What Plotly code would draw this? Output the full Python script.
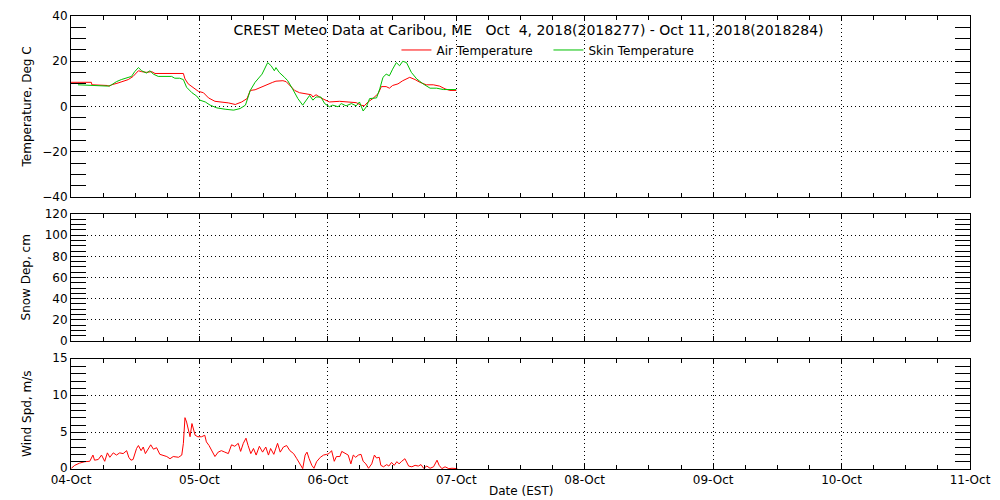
import pandas as pd
import plotly.graph_objects as go

# hours since 2018-10-04 00:00 EST
AIR_HOURS = [0, 3.8, 3.9, 5.6, 5.7, 6.8, 7.2, 7.6, 8.8, 9.75, 10.7, 11.6, 12.6, 13.2, 14.1,
             15.1, 15.7, 21.0, 21.3, 21.9, 22.9, 23.8, 24.75, 25.7, 26.9, 28.2, 29.4, 30.7,
             31.9, 32.9, 33.5, 34.4, 35.8, 37.0, 37.7, 38.3, 39.6, 40.2, 40.8, 41.8, 42.7,
             43.9, 44.9, 45.2, 45.8, 46.7, 47.7, 48.3, 50.2, 52.0, 53.3, 54.2, 54.8, 55.5,
             56.4, 57.4, 58.0, 58.9, 59.5, 60.1, 61.1, 62.0, 62.7, 63.3, 64.3, 65.2, 66.4,
             67.7, 68.9, 69.9, 70.8, 72.0]
AIR_TEMP = [10.7, 10.7, 9.6, 9.6, 9.3, 9.3, 9.0, 9.6, 10.4, 11.2, 11.9, 13.3, 15.8, 15.4, 15.1,
            15.4, 14.6, 14.6, 12.2, 10.0, 8.1, 6.7, 6.1, 3.8, 2.3, 2.0, 1.6, 0.9,
            2.0, 3.5, 7.1, 7.4, 8.9, 10.0, 10.7, 11.2, 11.4, 11.0, 9.6, 7.1, 6.1,
            5.7, 5.2, 4.2, 5.2, 3.8, 2.8, 2.0, 2.3, 2.0, 1.7, 0.6, 0.3, 2.0,
            3.5, 5.7, 8.8, 8.8, 8.1, 9.3, 10.0, 11.4, 12.2, 12.9, 11.9, 10.7, 9.6,
            9.6, 9.0, 7.8, 7.1, 7.1]

SKIN_HOURS = [1.3, 6.6, 7.0, 7.6, 8.5, 9.4, 10.4, 11.3, 11.9, 12.6, 13.2, 14.1, 14.75, 15.4,
              16.3, 18.8, 19.4, 20.3, 21.0, 21.6, 22.6, 23.5, 24.1, 25.1, 26.0, 27.25, 28.8,
              30.4, 31.6, 32.6, 33.5, 34.4, 35.7, 36.75, 37.4, 38.0, 38.3, 38.9, 39.9, 40.5,
              41.4, 42.4, 43.3, 43.9, 44.6, 45.2, 45.8, 46.7, 47.4, 48.3, 48.9, 49.9, 50.5,
              51.4, 52.4, 53.3, 53.9, 54.6, 55.2, 55.8, 57.1, 57.7, 58.3, 58.9, 59.5, 60.1,
              60.8, 61.4, 62.0, 62.7, 63.6, 64.6, 65.8, 67.1, 68.3, 69.6, 70.8, 72.0]
SKIN_TEMP = [9.6, 9.3, 9.0, 9.6, 11.0, 11.9, 12.5, 13.3, 15.4, 17.2, 15.8, 14.8, 15.8, 14.3,
             13.3, 13.3, 12.5, 12.5, 11.9, 8.5, 6.1, 4.6, 2.8, 2.0, 0.6, -0.6, -1.2,
             -1.6, -0.9, 0.6, 7.1, 10.7, 14.3, 19.4, 18.0, 15.8, 17.2, 15.1, 12.9, 11.4,
             7.8, 3.5, 0.6, 2.8, 4.9, 2.8, 4.2, 4.2, 1.3, -0.1, 0.6, -0.1, 1.3,
             0.3, 1.3, 0.3, 2.0, -2.0, -0.1, 3.5, 3.8, 7.8, 12.9, 14.3, 13.6, 16.5,
             19.4, 18.0, 20.0, 19.4, 15.1, 12.2, 10.0, 8.1, 8.1, 7.5, 7.5, 7.5]

# no snow on the ground this week
SNOW_HOURS = []
SNOW_DEPTH = []

WIND_HOURS = [0.06, 0.7, 1.6, 2.6, 3.5, 4.1, 4.4, 5.1, 5.7, 6.3, 6.8, 7.25, 7.9, 8.5, 9.1,
              9.75, 10.4, 10.8, 11.2, 11.6, 12.25, 12.6, 13.1, 13.5, 13.9, 14.4, 14.9, 15.4,
              16.0, 16.6, 17.25, 17.9, 18.5, 19.1, 20.1, 20.7, 21.0, 21.3, 21.6, 21.9, 22.25,
              22.6, 22.9, 23.2, 23.7, 24.1, 24.4, 25.0, 25.3, 25.8, 26.25, 26.9, 27.5, 28.1,
              28.75, 29.4, 30.0, 30.6, 31.25, 31.7, 32.2, 32.7, 33.1, 33.6, 34.1, 34.6, 35.2,
              35.8, 36.4, 36.9, 37.3, 37.9, 38.6, 39.1, 39.7, 40.3, 40.9, 41.6, 42.2, 42.8,
              43.3, 43.75, 44.1, 44.5, 45.0, 45.4, 45.9, 46.6, 47.2, 47.8, 48.2, 48.7, 49.2,
              49.6, 50.25, 50.6, 50.9, 51.3, 51.8, 52.3, 52.75, 53.2, 53.7, 54.2, 54.6, 55.1,
              55.6, 56.2, 56.7, 57.1, 57.6, 57.9, 58.4, 59.0, 59.4, 59.9, 60.4, 60.9, 61.3,
              61.8, 62.4, 63.1, 63.7, 64.3, 64.9, 65.4, 65.9, 66.5, 67.1, 67.75, 68.4, 68.8,
              69.3, 69.9, 70.6, 71.2, 71.8, 72.2]
WIND_SPD = [0.1, 0.5, 0.8, 1.0, 1.05, 1.9, 1.2, 1.3, 1.9, 1.05, 2.2, 1.6, 2.2, 1.9, 2.2,
            2.1, 2.5, 1.6, 1.2, 1.3, 2.8, 3.2, 2.5, 3.0, 2.1, 2.8, 3.3, 2.7,
            2.9, 2.0, 1.9, 1.7, 1.4, 1.7, 1.6, 1.9, 3.5, 7.0, 6.4, 5.5, 4.4,
            6.2, 5.5, 4.6, 4.4, 4.4, 4.4, 4.6, 3.7, 3.2, 2.5, 1.7, 2.3, 2.5,
            2.3, 2.1, 3.3, 3.1, 3.5, 2.4, 3.5, 4.2, 3.2, 2.1, 2.8, 1.9, 3.1,
            2.3, 3.0, 1.9, 2.8, 2.0, 3.5, 2.3, 3.0, 3.2, 2.5, 2.1, 1.4, 0.7,
            0.05, 1.9, 2.3, 1.4, 0.5, 0.1, 1.0, 1.6, 1.9, 2.0, 2.1, 2.5, 1.05,
            1.7, 1.7, 2.4, 2.3, 2.1, 1.9, 0.7, 1.9, 1.6, 1.9, 2.0, 1.05, 0.7,
            0.1, 0.7, 1.9, 1.5, 1.6, 0.5, 0.3, 0.6, 0.4, 0.9, 0.5, 1.0, 0.7,
            1.05, 1.4, 0.4, 0.3, 0.5, 0.4, 0.6, 0.1, 0.4, 0.1, 0.3, 1.2, 0.5,
            0.05, 0.3, 0.05, 0.1, 0.1, 0.05]

START = pd.Timestamp("2018-10-04 00:00")
END = pd.Timestamp("2018-10-11 00:00")

FONT = "DejaVu Sans"
DAY_MS = 86400000
SIX_H_MS = 21600000
DOT = "1px,3px"

# the page body keeps its 8px margin, so the figure is shifted to match the window
FIG_W, FIG_H = 984, 492
TOP_DOM = [0.6004, 1.0]
MID_DOM = [0.2826, 0.5629]
BOT_DOM = [0.0, 0.2428]


def to_times(hours):
    return START + pd.to_timedelta(hours, unit="h")


fig = go.Figure()
fig.add_trace(go.Scatter(x=to_times(AIR_HOURS), y=AIR_TEMP, mode="lines",
                         name="Air Temperature", line=dict(color="#FF0000", width=1),
                         xaxis="x3", yaxis="y"))
fig.add_trace(go.Scatter(x=to_times(SKIN_HOURS), y=SKIN_TEMP, mode="lines",
                         name="Skin Temperature", line=dict(color="#00C000", width=1),
                         xaxis="x3", yaxis="y"))
fig.add_trace(go.Scatter(x=to_times(SNOW_HOURS), y=SNOW_DEPTH, mode="lines",
                         showlegend=False, line=dict(color="#FF0000", width=1),
                         xaxis="x2", yaxis="y2"))
fig.add_trace(go.Scatter(x=to_times(WIND_HOURS), y=WIND_SPD, mode="lines",
                         showlegend=False, line=dict(color="#FF0000", width=1),
                         xaxis="x", yaxis="y3"))

xcommon = dict(
    type="date", range=[START, END], showline=True, mirror="ticks", automargin=False,
    linecolor="black", linewidth=1, ticks="inside", ticklen=5, tickcolor="black",
    tick0=START, dtick=DAY_MS, showgrid=True, gridcolor="black", gridwidth=1,
    griddash=DOT, zeroline=False,
    tickfont=dict(family=FONT, size=12, color="black"),
    minor=dict(dtick=SIX_H_MS, ticks="inside", ticklen=4, tickcolor="black", showgrid=False),
)
ycommon = dict(
    showline=True, mirror="ticks", linecolor="black", linewidth=1, automargin=False,
    ticks="inside", ticklen=15, tickcolor="black", showgrid=True,
    gridcolor="black", gridwidth=1, griddash=DOT, zeroline=False,
    tickfont=dict(family=FONT, size=12, color="black"),
)

fig.update_layout(
    width=FIG_W, height=FIG_H,
    margin=dict(l=63, r=22, t=8, b=31),
    paper_bgcolor="white", plot_bgcolor="white",
    font=dict(family=FONT, size=12, color="black"),
    title=dict(
        text="CREST Meteo Data at Caribou, ME\u00a0\u00a0\u00a0Oct\u00a0\u00a04, 2018(2018277) - Oct 11, 2018(2018284)",
        x=0.509, xref="paper", xanchor="center", y=1 - 22 / FIG_H, yref="container",
        yanchor="middle", font=dict(family=FONT, size=14, color="black"),
    ),
    legend=dict(orientation="h", x=0.362, xanchor="left", y=0.925, yanchor="middle",
                entrywidth=107, bgcolor="rgba(0,0,0,0)",
                font=dict(family=FONT, size=12, color="black")),
    xaxis=dict(xcommon, anchor="y3", tickformat="%d-%b"),
    xaxis2=dict(xcommon, anchor="y2", matches="x", showticklabels=False),
    xaxis3=dict(xcommon, anchor="y", matches="x", showticklabels=False),
    yaxis=dict(ycommon, domain=TOP_DOM, range=[-40, 40], dtick=20,
               minor=dict(dtick=5, ticks="inside", ticklen=15, tickcolor="black", showgrid=False)),
    yaxis2=dict(ycommon, domain=MID_DOM, range=[0, 120], dtick=20,
                minor=dict(dtick=5, ticks="inside", ticklen=15, tickcolor="black", showgrid=False)),
    yaxis3=dict(ycommon, domain=BOT_DOM, range=[0, 15], dtick=5, ticklabelshift=-1,
                minor=dict(dtick=1, ticks="inside", ticklen=15, tickcolor="black", showgrid=False)),
)

# y-axis titles at one common x, as in the original
for text, dom in [("Temperature, Deg C", TOP_DOM),
                  ("Snow Dep, cm", MID_DOM),
                  ("Wind Spd, m/s", BOT_DOM)]:
    fig.add_annotation(text=text, textangle=-90, xref="paper", yref="paper",
                       x=-0.049, y=(dom[0] + dom[1]) / 2, xanchor="center", yanchor="middle",
                       showarrow=False, font=dict(family=FONT, size=12, color="black"))

fig.add_annotation(text="Date (EST)", xref="paper", yref="paper", x=0.5, y=-0.0486,
                   xanchor="center", yanchor="middle", showarrow=False,
                   font=dict(family=FONT, size=12, color="black"))

fig.write_html("out.html")
